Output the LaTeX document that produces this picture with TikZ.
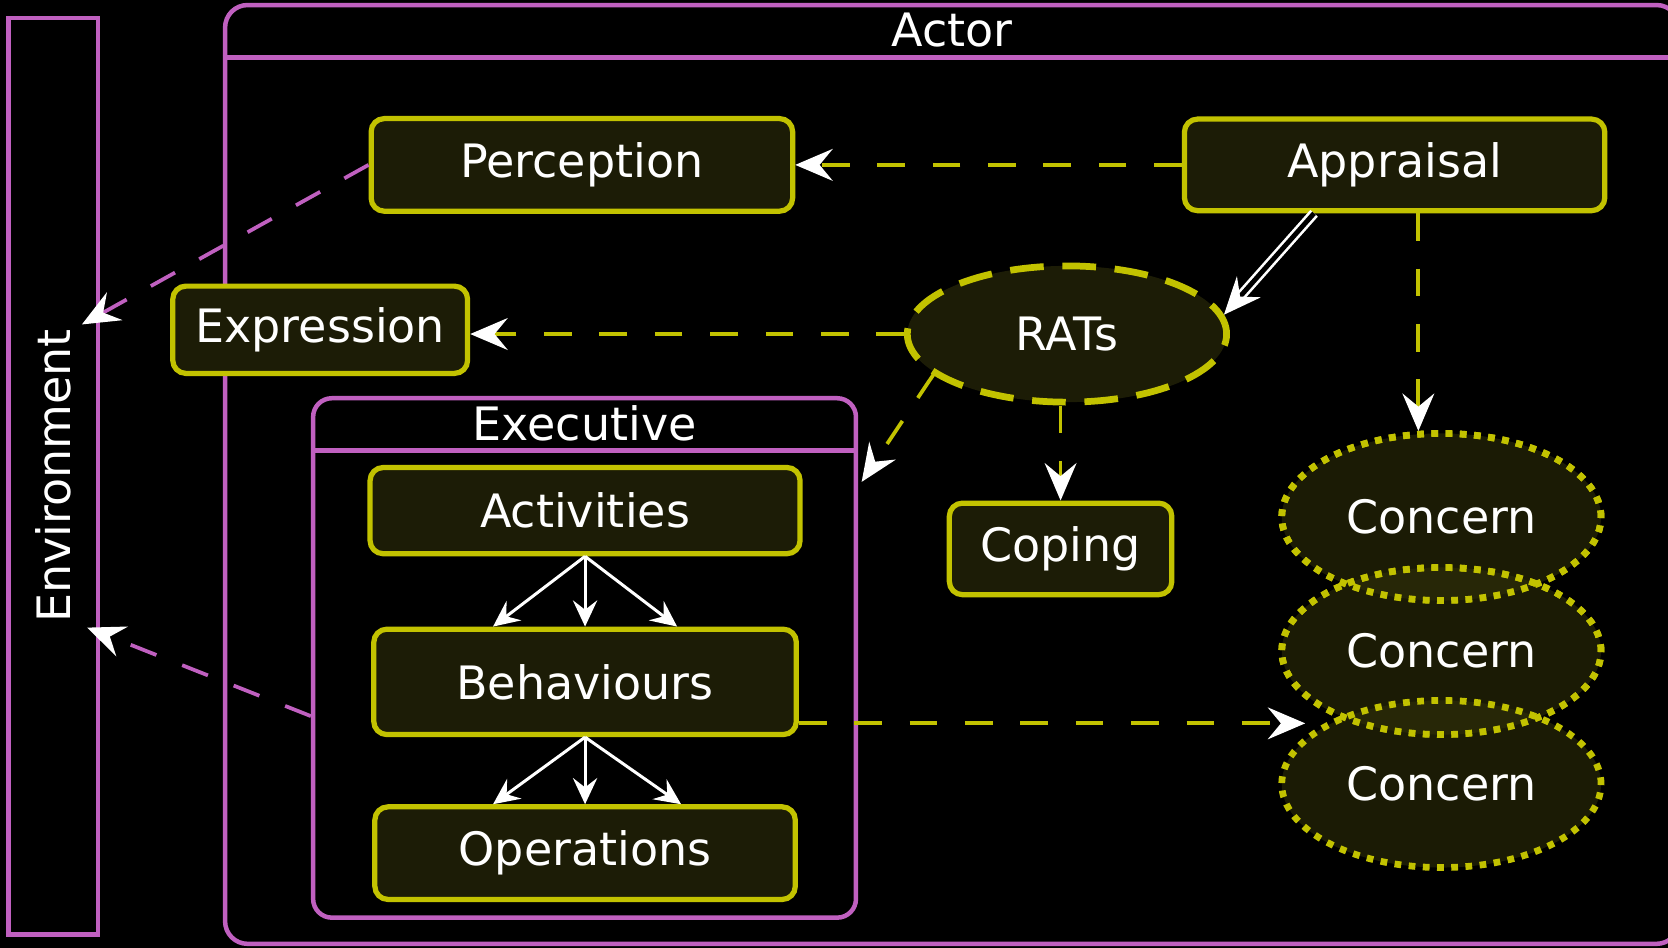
\documentclass[tikz,border=0pt]{standalone}
\usepackage{fontspec}
\setmainfont{DejaVu Sans}
\usepackage{tikz}
\usetikzlibrary{shapes.geometric, arrows.meta, positioning, calc}
\definecolor{viola}{RGB}{192,96,192}
\definecolor{giallo}{RGB}{194,194,0}
\definecolor{fondo}{RGB}{28,28,6}
\definecolor{fondoc}{RGB}{50,50,10}
\tikzset{
  unit/.style={
    rectangle, draw=giallo, rounded corners=3.5pt,
    line width=1.4pt,
    fill=fondo, text=white,
    font=\fontsize{12.3}{14}\selectfont,
    inner sep=0pt
  },
  % Contenitori viola
  frame/.style={rectangle, draw=viola, rounded corners=5pt, line width=1.2pt},
  heading/.style={text=white, font=\fontsize{12.3}{14}\selectfont, inner sep=0pt, minimum height=0.5cm},
  rat/.style={ellipse, draw=giallo, line width=1.8pt, dash pattern=on 9pt off 5pt,
    fill=fondo, text=white, font=\fontsize{12.3}{14}\selectfont,
    minimum width=3.0cm, minimum height=1.28cm},
  concern/.style={ellipse, draw=giallo, line width=1.8pt, dash pattern=on 1.8pt off 2pt,
    fill=fondoc, fill opacity=0.55, text opacity=1, text=white,
    font=\fontsize{12.3}{14}\selectfont,
    minimum width=3.0cm, minimum height=1.57cm},
  concernedge/.style={draw=giallo, line width=1.8pt, dash pattern=on 1.8pt off 2pt},
  % Stili per le relazioni
  influence/.style={-{Stealth[white, length=10pt, width=8.5pt, inset=3.5pt]}, draw=giallo, line width=1pt, dash pattern=on 7.4pt off 7.4pt},
  sensing/.style={-{Stealth[white, length=10pt, width=8.5pt, inset=3.5pt]}, draw=viola, line width=1pt, dash pattern=on 7.4pt off 7.4pt},
  refine/.style={-{Stealth[white, length=7pt, width=6.5pt, inset=2.5pt]}, draw=white, line width=0.8pt},
  derive/.style={-{Stealth[white, length=10pt, width=8.5pt, inset=3.5pt]}, draw=white, double=black, double distance=1.3pt, line width=0.7pt}
}

\begin{document}
\begin{tikzpicture}[x=0.01cm, y=-0.01cm]

\useasboundingbox (0,0) rectangle (1568,891);
\clip (0,0) rectangle (1568,891);
\fill[black] (0,0) rectangle (1568,891);

% Contenitore Actor e ambiente
\node[frame, rounded corners=6pt, minimum width=13.66cm, minimum height=8.82cm] (actor) at (895,446) {};
\node[heading, below=0pt of actor.north] (actortitle) {Actor};
\draw[frame] (actortitle.south -| actor.west) -- (actortitle.south -| actor.east);

\node[frame, rounded corners=0pt, minimum width=0.84cm, minimum height=8.61cm] (env) at (50,447.5) {};
\node[heading, rotate=90] (envlabel) at (env) {Environment};

% Livello superiore - Perception e Appraisal
\node[unit, minimum width=3.96cm, minimum height=0.87cm] (perception) at (547,155) {Perception};
\node[unit, minimum width=3.95cm, minimum height=0.86cm] (appraisal) at (1311,155) {Appraisal};

% Livello secondo - Expression e RATs
\node[unit, minimum width=2.77cm, minimum height=0.82cm] (expression) at (301,310) {Expression};
\node[rat] (rats) at (1003,314) {RATs};

% Contenitore Executive
\node[frame, minimum width=5.1cm, minimum height=4.88cm] (executive) at (549.5,618.5) {};
\node[heading, below=0pt of executive.north] (exectitle) {Executive};
\draw[frame] (exectitle.south -| executive.west) -- (exectitle.south -| executive.east);

\node[unit, minimum width=4.04cm, minimum height=0.81cm] (activities) at (550,480) {Activities};
\node[unit, minimum width=3.97cm, minimum height=0.99cm] (behaviours) at (550,641) {Behaviours};
\node[unit, minimum width=3.95cm, minimum height=0.87cm] (operations) at (550,802) {Operations};

% Coping e Concern
\node[unit, minimum width=2.09cm, minimum height=0.86cm] (coping) at (997,516) {Coping};
\node[concern] (concernA) at (1355,486) {Concern};
\node[concern] (concernB) at (1355,612) {Concern};
\node[concern] (concernC) at (1355,737) {Concern};
% bordi puntinati sopra i riempimenti sovrapposti
\foreach \c in {concernA,concernB} {
  \draw[concernedge] (\c.center) ellipse [x radius=1.5cm, y radius=0.785cm];
}

% Punti liberi
\coordinate (envin1) at (77,305);
\coordinate (envin2) at (82,590);
\coordinate (execin) at (810,453);
\coordinate (concin) at (1227,680);

% Relazioni
\draw[influence] (appraisal.west) -- (perception.east);
\draw[sensing] (perception.west) -- (envin1);
\draw[influence] (rats.west) -- (rats.west -| expression.east);
\draw[influence] (rats.197) -- (execin);
\draw[influence] (rats.south -| coping.north) -- (coping.north);
\draw[derive] (appraisal.211) -- (rats.7);
\draw[influence] (appraisal.south -| concernA.105) -- (concernA.105);
\draw[influence] (behaviours.east |- concin) -- (concin);
\draw[sensing] (executive.192) -- (envin2);

% Scomposizione Executive
\foreach \a in {149,90,31} {
  \draw[refine] (activities.south) -- (behaviours.\a);
}
\foreach \a in {152,90,27} {
  \draw[refine] (behaviours.south) -- (operations.\a);
}

\end{tikzpicture}
\end{document}
